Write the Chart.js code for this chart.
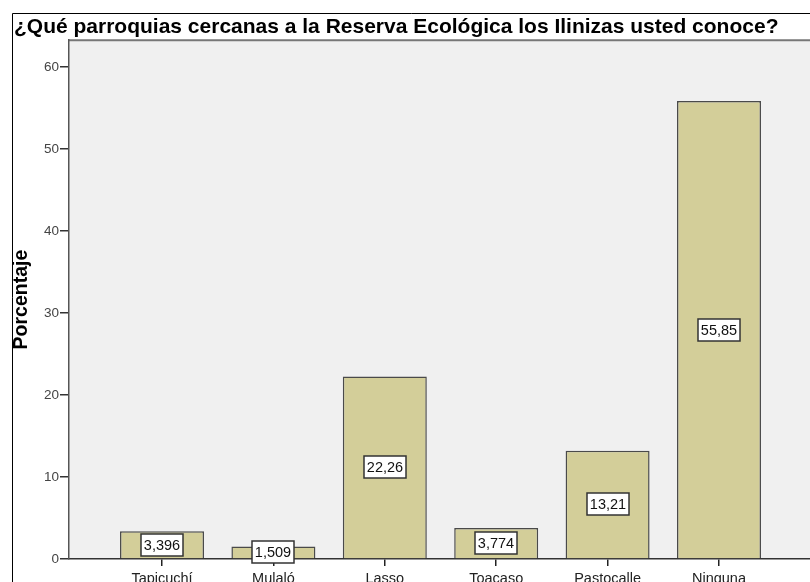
<!DOCTYPE html>
<html>
<head>
<meta charset="utf-8">
<script src="https://cdn.jsdelivr.net/npm/chart.js@4"></script>
<style>
  html, body { margin: 0; padding: 0; background: #fff; overflow: hidden; }
</style>
</head>
<body>
<canvas id="chart" width="810" height="582"></canvas>
<script>
const titleText = "¿Qué parroquias cercanas a la Reserva Ecológica los Ilinizas usted conoce?";
const yTitle = "Porcentaje";
const categories = ["Tapicuchí", "Mulaló", "Lasso", "Toacaso", "Pastocalle", "Ninguna"];
const percentages = [3.396, 1.509, 22.26, 3.774, 13.21, 55.85];
const yTicks = [0, 10, 20, 30, 40, 50, 60];

const FONT = '"Liberation Sans", Arial, sans-serif';

// outer frame + plot background
const frame = {
  id: 'frame',
  beforeDraw(chart) {
    const { ctx, chartArea: a, width, height } = chart;
    ctx.save();
    ctx.fillStyle = '#fff';
    ctx.fillRect(0, 0, width, height);
    ctx.strokeStyle = '#000';
    ctx.lineWidth = 1;
    ctx.beginPath();
    ctx.moveTo(12.5, height);
    ctx.lineTo(12.5, 13.5);
    ctx.lineTo(width, 13.5);
    ctx.stroke();
    ctx.fillStyle = '#f0f0f0';
    ctx.fillRect(a.left, a.top, a.right - a.left, a.bottom - a.top);
    ctx.strokeStyle = '#777';
    ctx.lineWidth = 2;
    ctx.beginPath();
    ctx.moveTo(a.left, a.top);
    ctx.lineTo(a.right, a.top);
    ctx.stroke();
    ctx.restore();
  }
};

// white value boxes in the middle of each bar
const valueBoxes = {
  id: 'valueBoxes',
  afterDatasetsDraw(chart) {
    const ctx = chart.ctx;
    const meta = chart.getDatasetMeta(0);
    ctx.save();
    ctx.font = '14.5px ' + FONT;
    ctx.textAlign = 'center';
    ctx.textBaseline = 'middle';
    meta.data.forEach((bar, i) => {
      const text = percentages[i].toPrecision(4).replace('.', ',');
      const cy = Math.round((bar.y + bar.base) / 2);
      const cx = Math.round(bar.x);
      const w = Math.round(ctx.measureText(text).width + 6);
      const h = 22;
      ctx.fillStyle = '#fff';
      ctx.fillRect(cx - w / 2, cy - h / 2, w, h);
      ctx.strokeStyle = '#333';
      ctx.lineWidth = 1.5;
      ctx.strokeRect(cx - w / 2, cy - h / 2, w, h);
      ctx.fillStyle = '#111';
      ctx.fillText(text, cx, cy + 1);
    });
    ctx.restore();
  }
};

const ctx = document.getElementById('chart').getContext('2d');
new Chart(ctx, {
  type: 'bar',
  data: {
    datasets: [{
      data: percentages.map((v, i) => ({ x: i + 1, y: v })),
      backgroundColor: '#d3ce99',
      borderColor: '#4a4a4a',
      borderWidth: 1.5,
      barPercentage: 0.754,
      categoryPercentage: 1
    }]
  },
  options: {
    responsive: false,
    animation: false,
    devicePixelRatio: 1,
    layout: { padding: { left: 14, top: 15, right: 0, bottom: 0 } },
    plugins: {
      legend: { display: false },
      tooltip: { enabled: false },
      title: {
        display: true,
        text: titleText,
        align: 'start',
        color: '#000',
        font: { family: FONT, size: 21, weight: 'bold' },
        padding: { top: 0, bottom: 0 }
      }
    },
    scales: {
      x: {
        type: 'linear',
        offset: false,
        min: 0.165,
        max: 6.817,
        afterBuildTicks: s => { s.ticks = categories.map((c, i) => ({ value: i + 1 })); },
        afterFit: s => { s.height = 23; },
        ticks: {
          callback: v => categories[v - 1],
          color: '#222',
          font: { family: FONT, size: 14.5 },
          padding: 4,
          maxRotation: 0,
          autoSkip: false
        },
        grid: { offset: false, drawOnChartArea: false, drawTicks: true, tickLength: 7, color: '#222', lineWidth: 1.5 },
        border: { color: '#333', width: 1.5 }
      },
      y: {
        min: 0,
        max: 63.25,
        afterBuildTicks: s => { s.ticks = yTicks.map(v => ({ value: v })); },
        afterFit: s => { s.width = 55; },
        ticks: {
          color: '#444',
          font: { family: FONT, size: 13.5 },
          padding: 1
        },
        grid: { drawOnChartArea: false, drawTicks: true, tickLength: 9, color: '#333', lineWidth: 1.5 },
        border: { color: '#555', width: 1.5 },
        title: {
          display: true,
          text: yTitle,
          color: '#000',
          font: { family: FONT, size: 19.5, weight: 'bold' },
          padding: { top: -4, bottom: 0 }
        }
      }
    }
  },
  plugins: [frame, valueBoxes]
});
</script>
</body>
</html>
